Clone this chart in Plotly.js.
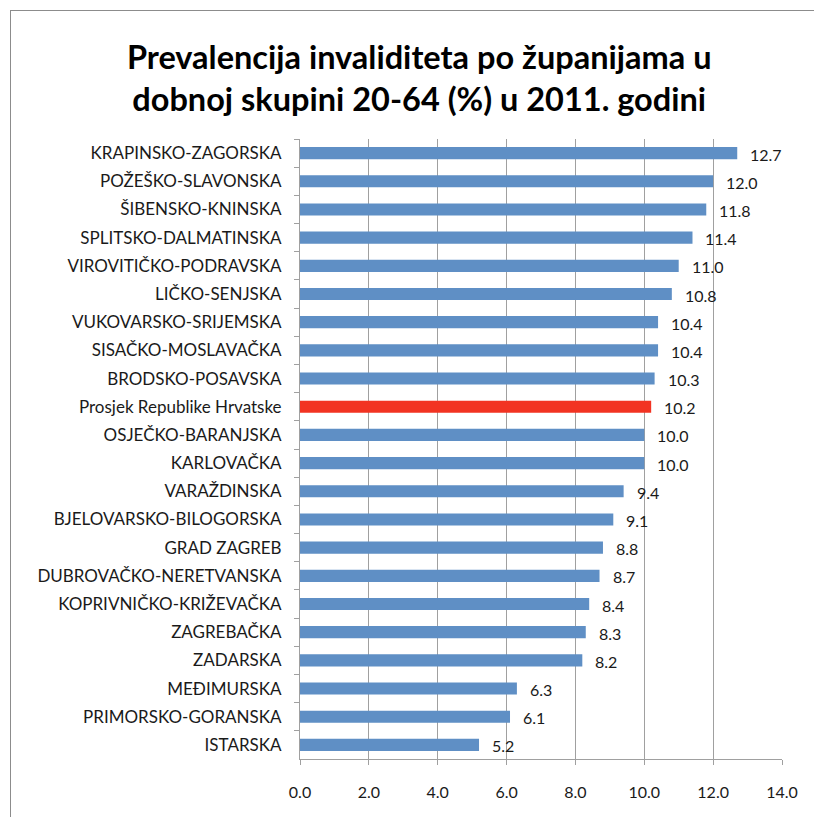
<!DOCTYPE html>
<html>
<head>
<meta charset="utf-8">
<script src="https://cdn.plot.ly/plotly-3.0.1.min.js"></script>
<style>
html,body{margin:0;padding:0;background:#fff;overflow:hidden;}
#wrap{position:relative;width:814px;height:817px;overflow:hidden;}
#chart{width:814px;height:817px;}
#frame{position:absolute;left:10px;top:10px;width:900px;height:900px;border-left:1px solid #8C8C8C;border-top:1px solid #8C8C8C;pointer-events:none;}
</style>
</head>
<body>
<div id="wrap">
<div id="chart"></div>
<div id="frame"></div>
</div>
<script>
var categories = [
  "KRAPINSKO-ZAGORSKA","POŽEŠKO-SLAVONSKA","ŠIBENSKO-KNINSKA","SPLITSKO-DALMATINSKA",
  "VIROVITIČKO-PODRAVSKA","LIČKO-SENJSKA","VUKOVARSKO-SRIJEMSKA","SISAČKO-MOSLAVAČKA",
  "BRODSKO-POSAVSKA","Prosjek Republike Hrvatske","OSJEČKO-BARANJSKA","KARLOVAČKA",
  "VARAŽDINSKA","BJELOVARSKO-BILOGORSKA","GRAD ZAGREB","DUBROVAČKO-NERETVANSKA",
  "KOPRIVNIČKO-KRIŽEVAČKA","ZAGREBAČKA","ZADARSKA","MEĐIMURSKA","PRIMORSKO-GORANSKA","ISTARSKA"
];
var values = [12.7,12.0,11.8,11.4,11.0,10.8,10.4,10.4,10.3,10.2,10.0,10.0,9.4,9.1,8.8,8.7,8.4,8.3,8.2,6.3,6.1,5.2];
var highlight = "Prosjek Republike Hrvatske";
var xTicks = [0,2,4,6,8,10,12,14];

var blue = "#5F8FC5", red = "#F23322";
var colors = categories.map(function(c){ return c === highlight ? red : blue; });
var FONT = "Lato, 'Open Sans', sans-serif";

var trace = {
  type: "bar",
  orientation: "h",
  y: categories,
  x: values,
  marker: {color: colors},
  width: 0.43,
  hoverinfo: "none"
};

var annotations = values.map(function(v, i){
  return {
    x: v, y: categories[i], xref: "x", yref: "y",
    text: v.toFixed(1), showarrow: false,
    xanchor: "left", xshift: 11, yshift: -1,
    font: {family: FONT, size: 16, color: "#1a1a1a"}
  };
});

var layout = {
  width: 814, height: 817,
  margin: {l: 300, r: 32, t: 139, b: 58},
  paper_bgcolor: "#fff", plot_bgcolor: "#fff",
  showlegend: false,
  title: {
    text: "Prevalencija invaliditeta po županijama u<br>dobnoj skupini 20-64 (%) u 2011. godini",
    font: {family: FONT, size: 32.5, color: "#000", weight: "bold"},
    xref: "container", x: 0.515, xanchor: "center",
    yref: "container", y: 0.916, yanchor: "top"
  },
  xaxis: {
    range: [0, 14],
    tickvals: xTicks,
    ticktext: xTicks.map(function(t){ return t.toFixed(1); }),
    showgrid: true, gridcolor: "#A0A0A0", gridwidth: 1,
    showline: true, linecolor: "#A0A0A0", linewidth: 1,
    ticks: "outside", ticklen: 5, tickcolor: "#A0A0A0",
    zeroline: false,
    tickfont: {family: FONT, size: 16, color: "#1a1a1a"},
    ticklabelstandoff: 14,
    fixedrange: true
  },
  yaxis: {
    type: "category",
    autorange: "reversed",
    tickson: "boundaries",
    showgrid: false,
    showline: true, linecolor: "#A0A0A0", linewidth: 1,
    ticks: "outside", ticklen: 5, tickcolor: "#A0A0A0",
    tickfont: {family: FONT, size: 17, color: "#1a1a1a"},
    ticklabelstandoff: 14,
    fixedrange: true
  },
  annotations: annotations
};

Plotly.newPlot("chart", [trace], layout, {displayModeBar: false, staticPlot: true});
</script>
</body>
</html>
